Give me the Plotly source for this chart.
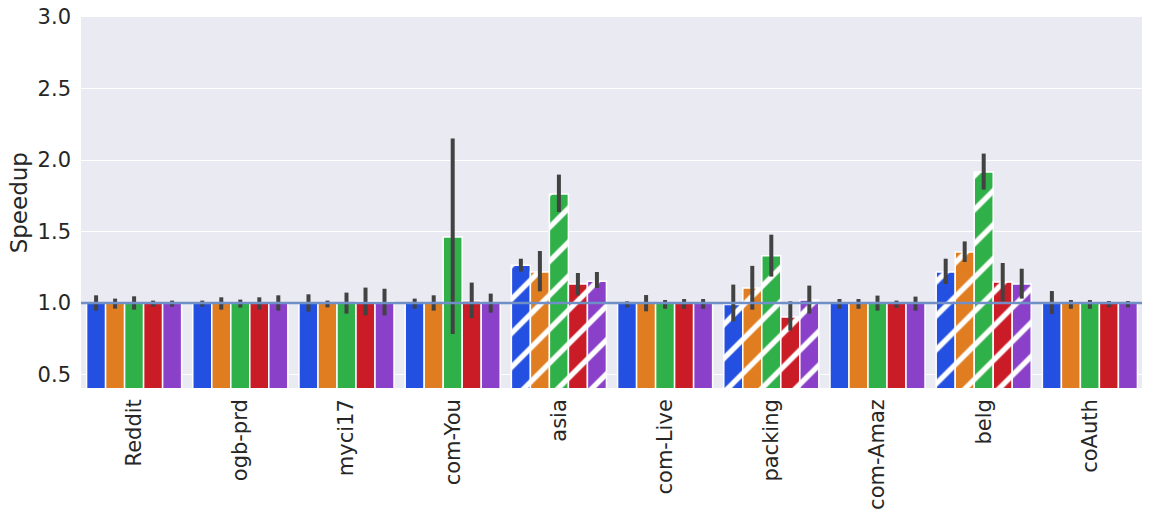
import plotly.graph_objects as go

datasets = ["Reddit", "ogb-prd", "myci17", "com-You", "asia",
            "com-Live", "packing", "com-Amaz", "belg", "coAuth"]

series_names = ["s1", "s2", "s3", "s4", "s5"]
colors = ["#2350e0", "#e07d20", "#30b048", "#ca1c26", "#8a40c8"]

# mean speedup per series (one value per dataset)
means = [
    [1.00, 1.00, 1.00, 1.00, 1.264, 1.00, 0.99, 1.00, 1.217, 1.00],
    [1.00, 1.00, 1.00, 1.00, 1.217, 1.00, 1.105, 1.00, 1.357, 1.00],
    [1.00, 1.00, 1.00, 1.462, 1.762, 1.00, 1.331, 1.00, 1.916, 1.00],
    [1.00, 1.00, 1.01, 1.014, 1.133, 1.00, 0.902, 1.00, 1.147, 1.00],
    [1.00, 1.00, 1.01, 1.00, 1.152, 1.00, 1.021, 1.00, 1.133, 1.00],
]
# confidence interval ends
ci_high = [
    [1.054, 1.017, 1.061, 1.031, 1.31, 1.012, 1.129, 1.028, 1.31, 1.084],
    [1.031, 1.040, 1.017, 1.054, 1.364, 1.056, 1.26, 1.028, 1.431, 1.021],
    [1.047, 1.024, 1.073, 2.15, 1.898, 1.021, 1.478, 1.052, 2.045, 1.021],
    [1.017, 1.040, 1.108, 1.143, 1.21, 1.028, 1.012, 1.017, 1.28, 1.014],
    [1.017, 1.054, 1.10, 1.066, 1.217, 1.028, 1.122, 1.045, 1.24, 1.014],
]
ci_low = [
    [0.947, 0.975, 0.94, 0.96, 1.22, 0.97, 0.872, 0.96, 1.133, 0.923],
    [0.961, 0.954, 0.97, 0.947, 1.082, 0.942, 0.954, 0.96, 1.287, 0.96],
    [0.954, 0.968, 0.926, 0.783, 1.636, 0.96, 1.185, 0.947, 1.793, 0.96],
    [0.975, 0.954, 0.914, 0.895, 1.054, 0.96, 0.807, 0.965, 1.012, 0.97],
    [0.975, 0.947, 0.914, 0.933, 1.105, 0.96, 0.926, 0.947, 1.031, 0.97],
]
hatched = ["asia", "packing", "belg"]

fig = go.Figure()
for i, name in enumerate(series_names):
    plus = [h - m for h, m in zip(ci_high[i], means[i])]
    minus = [m - l for m, l in zip(means[i], ci_low[i])]
    fig.add_trace(go.Bar(
        name=name,
        x=datasets,
        y=means[i],
        marker=dict(
            color=colors[i],
            line=dict(color="white", width=1.5),
            pattern=dict(
                shape=["/" if d in hatched else "" for d in datasets],
                fillmode="overlay",
                fgcolor="white",
                fgopacity=1,
                size=24,
                solidity=0.22,
            ),
        ),
        error_y=dict(type="data", array=plus, arrayminus=minus,
                     color="#424242", thickness=4, width=0),
    ))

fig.add_shape(type="line", xref="paper", x0=0, x1=1, y0=1.0, y1=1.0,
              line=dict(color="#6f8fc6", width=2.5), layer="above")

# y axis title as an annotation so it sits clear of the tick labels
fig.add_annotation(text="Speedup", textangle=-90, showarrow=False,
                   xref="paper", yref="paper", x=-0.0585, y=0.5,
                   xanchor="center", yanchor="middle",
                   font=dict(size=23, color="#262626"))

# page body has an 8px margin, so the figure is a bit smaller than the window
fig.update_layout(
    width=1142, height=512,
    margin=dict(l=73, r=7, t=9, b=132),
    barmode="group", bargap=0.105, bargroupgap=0,
    showlegend=False,
    paper_bgcolor="white", plot_bgcolor="#eaeaf2",
    font=dict(family="DejaVu Sans", color="#262626", size=21),
)
fig.update_xaxes(tickangle=-90, showgrid=False, ticks="", zeroline=False,
                 automargin=False, ticklabelstandoff=6,
                 tickfont=dict(size=21))
fig.update_yaxes(range=[0.406, 3.0], dtick=0.5, tickformat=".1f",
                 gridcolor="white", gridwidth=1.2, zeroline=False, ticks="",
                 automargin=False, ticklabelstandoff=9,
                 ticklabeloverflow="allow",
                 tickfont=dict(size=21))

fig.write_html("out.html")
